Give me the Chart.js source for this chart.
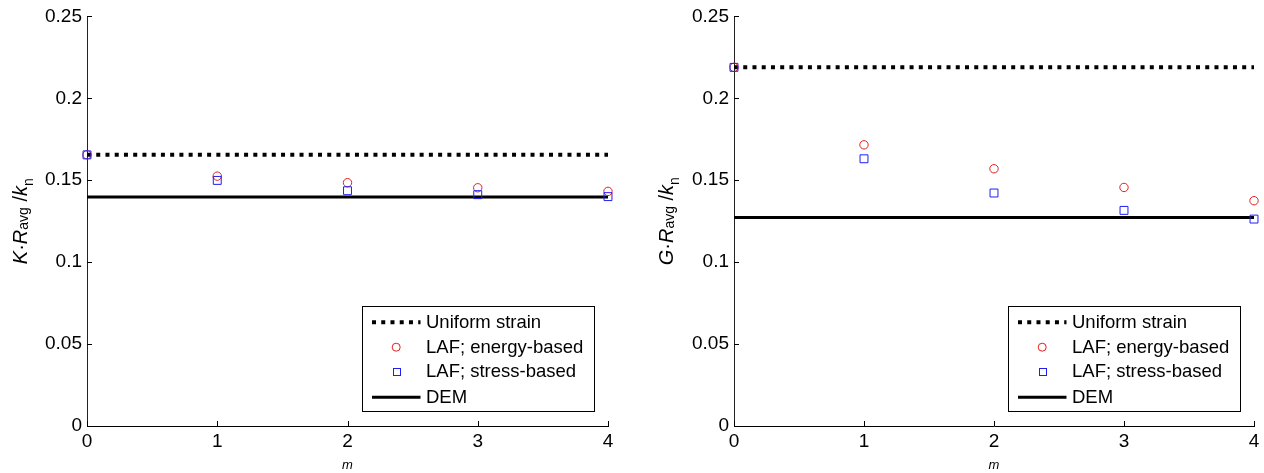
<!DOCTYPE html>
<html>
<head>
<meta charset="utf-8">
<script src="https://cdn.jsdelivr.net/npm/chart.js@4"></script>
<style>
  html, body { margin: 0; padding: 0; background: #fff; }
  #wrap { position: relative; width: 1264px; height: 473px; overflow: hidden; }
  canvas { position: absolute; top: 0; }
</style>
</head>
<body>
<div id="wrap">
  <canvas id="left" width="632" height="473" style="left:0px;width:632px;height:473px"></canvas>
  <canvas id="right" width="632" height="473" style="left:632px;width:632px;height:473px"></canvas>
</div>
<script>
// ---------- data ----------
const mValues = [0, 1, 2, 3, 4];
const xTickValues = [0, 1, 2, 3, 4];
const xTickLabels = ['0', '1', '2', '3', '4'];
const yTickValues = [0, 0.05, 0.1, 0.15, 0.2, 0.25];
const yTickLabels = ['0', '0.05', '0.1', '0.15', '0.2', '0.25'];
const seriesNames = ['Uniform strain', 'LAF; energy-based', 'LAF; stress-based', 'DEM'];

// bulk modulus (left panel)
const K_uniform = 0.1655;
const K_dem = 0.1397;
const K_energy = [0.1655, 0.1525, 0.1485, 0.1454, 0.1432];
const K_stress = [0.1655, 0.1499, 0.1436, 0.1412, 0.1400];

// shear modulus (right panel)
const G_uniform = 0.2189;
const G_dem = 0.1272;
const G_energy = [0.2189, 0.1716, 0.1570, 0.1456, 0.1375];
const G_stress = [0.2189, 0.1631, 0.1422, 0.1316, 0.1263];

// ---------- styling ----------
const FONT = '"Liberation Sans", Arial, Helvetica, sans-serif';
const RED = 'rgb(228,30,30)';
const BLUE = 'rgb(30,30,245)';

function pts(xs, ys) { return xs.map((x, i) => ({ x: x, y: ys[i] })); }
function hline(v) { return [{ x: mValues[0], y: v }, { x: mValues[mValues.length - 1], y: v }]; }

const customPlugin = {
  id: 'custom',
  afterDraw(chart) {
    const o = chart.options.plugins.custom;
    const ctx = chart.ctx;
    const ca = chart.chartArea;
    const xs = chart.scales.x, ys = chart.scales.y;
    ctx.save();
    // inward ticks
    ctx.strokeStyle = '#000';
    ctx.lineWidth = 1;
    ctx.beginPath();
    ys.ticks.forEach(t => {
      const y = Math.round(ys.getPixelForValue(t.value)) + 0.5;
      ctx.moveTo(ca.left, y); ctx.lineTo(ca.left + 5, y);
    });
    xs.ticks.forEach(t => {
      const x = Math.round(xs.getPixelForValue(t.value)) + 0.5;
      ctx.moveTo(x, ca.bottom); ctx.lineTo(x, ca.bottom - 5);
    });
    ctx.stroke();

    // x title
    ctx.fillStyle = '#000';
    ctx.font = 'italic 13px ' + FONT;
    ctx.textAlign = 'center';
    ctx.textBaseline = 'middle';
    ctx.fillText('m', (ca.left + ca.right) / 2, 465);

    // y title (rotated, with subscripts)
    const segs = o.yTitle;
    const fontOf = s => (s.italic ? 'italic ' : '') + (s.sub ? '14px ' : '20px ') + FONT;
    let total = 0;
    segs.forEach(s => { ctx.font = fontOf(s); s.w = ctx.measureText(s.t).width; total += s.w; });
    ctx.translate(o.yTitleX, (ca.top + ca.bottom) / 2 + total / 2);
    ctx.rotate(-Math.PI / 2);
    ctx.textAlign = 'left';
    ctx.textBaseline = 'alphabetic';
    let cx = 0;
    segs.forEach(s => {
      ctx.font = fontOf(s);
      ctx.fillText(s.t, cx, s.dy || 0);
      cx += s.w;
    });
    ctx.setTransform(1, 0, 0, 1, 0, 0);

    // legend
    const bw = 232, bh = 105;
    const bx = Math.round(ca.right - 14 - bw) + 0.5;
    const by = Math.round(ca.bottom - 15 - bh) + 0.5;
    ctx.fillStyle = '#fff';
    ctx.fillRect(bx, by, bw, bh);
    ctx.strokeStyle = '#000';
    ctx.lineWidth = 1;
    ctx.strokeRect(bx, by, bw, bh);
    const rowY = [15.7, 40.7, 64.7, 90.7];
    const sx0 = bx + 9.5, sx1 = bx + 58, mx = bx + 33.7, tx = bx + 63.5;
    ctx.font = '18.5px ' + FONT;
    ctx.textBaseline = 'middle';
    ctx.textAlign = 'left';
    o.legend.forEach((it, i) => {
      const y = by + rowY[i];
      ctx.save();
      if (it.kind === 'dotted') {
        ctx.strokeStyle = '#000'; ctx.lineWidth = 4; ctx.setLineDash([4, 5.24]); ctx.lineCap = 'butt';
        ctx.beginPath(); ctx.moveTo(sx0, y); ctx.lineTo(sx1, y); ctx.stroke();
      } else if (it.kind === 'solid') {
        ctx.strokeStyle = '#000'; ctx.lineWidth = 3;
        ctx.beginPath(); ctx.moveTo(sx0, y); ctx.lineTo(sx1, y); ctx.stroke();
      } else if (it.kind === 'circle') {
        ctx.strokeStyle = RED; ctx.lineWidth = 1;
        ctx.beginPath(); ctx.arc(mx, y, 4, 0, Math.PI * 2); ctx.stroke();
      } else if (it.kind === 'square') {
        ctx.strokeStyle = BLUE; ctx.lineWidth = 1;
        ctx.strokeRect(Math.round(mx - 3.5) + 0.5, Math.round(y - 3.5) + 0.5, 7, 7);
      }
      ctx.restore();
      ctx.fillStyle = '#000';
      ctx.fillText(it.label, tx, y + 1);
    });
    ctx.restore();
  }
};

function makeChart(id, uniform, dem, energy, stress, yTitle, geom) {
  return new Chart(document.getElementById(id), {
    type: 'scatter',
    plugins: [customPlugin],
    data: {
      datasets: [
        { label: seriesNames[2], data: pts(mValues, stress), order: 0, clip: false,
          pointStyle: 'rect', pointRadius: 5.6, pointBorderColor: BLUE, pointBackgroundColor: 'rgba(0,0,0,0)',
          pointBorderWidth: 1, showLine: false },
        { label: seriesNames[1], data: pts(mValues, energy), order: 1, clip: false,
          pointStyle: 'circle', pointRadius: 4.2, pointBorderColor: RED, pointBackgroundColor: 'rgba(0,0,0,0)',
          pointBorderWidth: 1, showLine: false },
        { label: seriesNames[0], data: hline(uniform), order: 2, clip: false,
          showLine: true, pointRadius: 0, borderColor: '#000', borderWidth: 4,
          borderDash: [4, 5.24], borderCapStyle: 'butt' },
        { label: seriesNames[3], data: hline(dem), order: 3, clip: false,
          showLine: true, pointRadius: 0, borderColor: '#000', borderWidth: 3 }
      ]
    },
    options: {
      responsive: false,
      animation: false,
      events: [],
      layout: { padding: { left: 0, right: geom.right, top: 16, bottom: 0 } },
      plugins: {
        legend: { display: false },
        tooltip: { enabled: false },
        custom: {
          yTitle: yTitle,
          yTitleX: geom.titleX,
          legend: [
            { kind: 'dotted', label: seriesNames[0] },
            { kind: 'circle', label: seriesNames[1] },
            { kind: 'square', label: seriesNames[2] },
            { kind: 'solid', label: seriesNames[3] }
          ]
        }
      },
      scales: {
        x: {
          type: 'linear', min: 0, max: 4,
          afterBuildTicks: s => { s.ticks = xTickValues.map(v => ({ value: v })); },
          afterFit: s => { s.height = 47; },
          grid: { display: false, drawTicks: false, tickLength: 0 },
          border: { display: true, color: '#000', width: 1 },
          ticks: { padding: 4, color: '#000', font: { family: FONT, size: 19 },
                   maxRotation: 0, autoSkip: false,
                   callback: (v, i) => xTickLabels[i] }
        },
        y: {
          type: 'linear', min: 0, max: 0.25,
          afterBuildTicks: s => { s.ticks = yTickValues.map(v => ({ value: v })); },
          afterFit: s => { s.width = geom.left; },
          grid: { display: false, drawTicks: false, tickLength: 0 },
          border: { display: true, color: '#222', width: 1 },
          ticks: { padding: 5, color: '#000', font: { family: FONT, size: 19 },
                   autoSkip: false,
                   callback: (v, i) => yTickLabels[i] }
        }
      }
    }
  });
}

const kTitle = [
  { t: 'K', italic: true }, { t: '\u00B7' }, { t: 'R', italic: true },
  { t: 'avg', sub: true, dy: 1 }, { t: ' /' }, { t: 'k', italic: true }, { t: 'n', sub: true, dy: 6 }
];
const gTitle = [
  { t: 'G', italic: true }, { t: '\u00B7' }, { t: 'R', italic: true },
  { t: 'avg', sub: true, dy: 1 }, { t: ' /' }, { t: 'k', italic: true }, { t: 'n', sub: true, dy: 6 }
];

makeChart('left', K_uniform, K_dem, K_energy, K_stress, kTitle, { left: 87, right: 24, titleX: 27 });
makeChart('right', G_uniform, G_dem, G_energy, G_stress, gTitle, { left: 102, right: 10, titleX: 41 });
</script>
</body>
</html>
